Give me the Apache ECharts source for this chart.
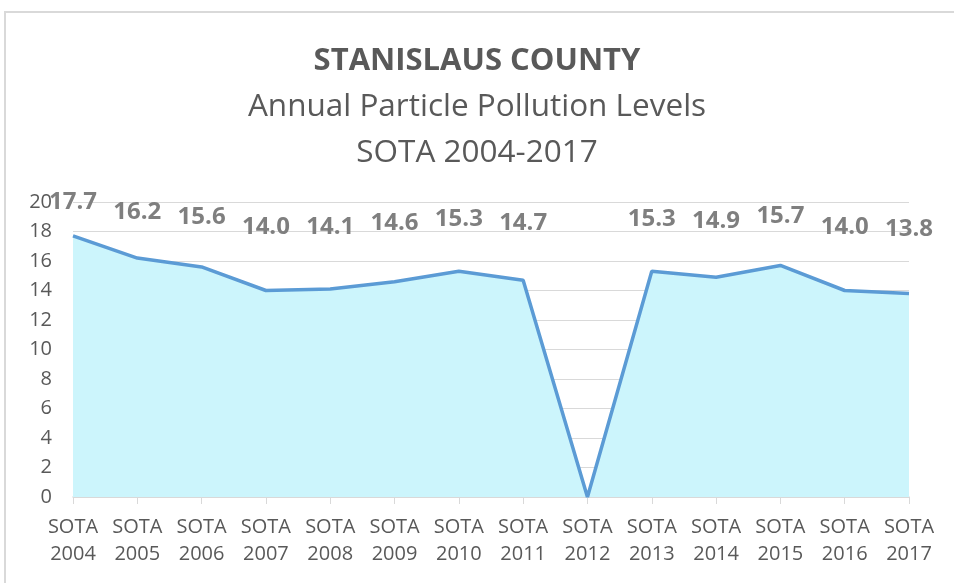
<!DOCTYPE html>
<html>
<head>
<meta charset="utf-8">
<script src="https://cdn.jsdelivr.net/npm/echarts@6/dist/echarts.min.js"></script>
<style>
  html, body { margin: 0; padding: 0; background: #fff; }
  #chart { width: 954px; height: 583px; }
</style>
</head>
<body>
<div id="chart"></div>
<script>
var years = ['2004', '2005', '2006', '2007', '2008', '2009', '2010', '2011', '2012', '2013', '2014', '2015', '2016', '2017'];
var levels = [17.7, 16.2, 15.6, 14.0, 14.1, 14.6, 15.3, 14.7, 0, 15.3, 14.9, 15.7, 14.0, 13.8];
var yTicks = { min: 0, max: 20, step: 2 };

var categories = years.map(function(y) { return 'SOTA\n' + y; });

// Excel places the labels in a compressed band above the points
var labelOffset = function(v) {
	return [0, -(175 - 8 * v)];
};

var seriesData = levels.map(function(v) {
	return {
		value : v,
		label : {
			show : v > 0,
			position : 'inside',
			offset : labelOffset(v)
		}
	};
});

var chart = echarts.init(document.getElementById('chart'));

var option = {
	backgroundColor : '#fff',
	animation : false,
	textStyle : { fontFamily : 'Open Sans' },
	title : {
		left : 'center',
		top : 33,
		text : '{a|STANISLAUS COUNTY}\n{b|Annual Particle Pollution Levels}\n{b|SOTA 2004-2017}',
		textStyle : {
			rich : {
				a : { fontFamily : 'Open Sans', fontSize : 31, fontWeight : 'bold', color : '#595959', lineHeight : 46 },
				b : { fontFamily : 'Open Sans', fontSize : 31.5, fontWeight : 'normal', color : '#595959', lineHeight : 46 }
			}
		}
	},
	graphic : [ {
		type : 'rect',
		shape : { x : 5, y : 12, width : 980, height : 600 },
		style : { fill : 'none', stroke : '#d9d9d9', lineWidth : 2 },
		silent : true
	} ],
	grid : {
		left : 73,
		right : 45,
		top : 202,
		bottom : 86,
		containLabel : false
	},
	xAxis : {
		type : 'category',
		boundaryGap : false,
		data : categories,
		axisLine : { lineStyle : { color : '#d9d9d9', width : 1.5 } },
		axisTick : { show : true, length : 7, lineStyle : { color : '#d9d9d9' } },
		axisLabel : {
			color : '#595959',
			fontSize : 20,
			lineHeight : 27,
			margin : 17,
			interval : 0
		}
	},
	yAxis : {
		type : 'value',
		min : yTicks.min,
		max : yTicks.max,
		interval : yTicks.step,
		axisLine : { show : false },
		axisTick : { show : false },
		splitLine : { lineStyle : { color : '#d9d9d9', width : 1 } },
		axisLabel : {
			color : '#595959',
			fontSize : 20,
			margin : 21
		}
	},
	series : [ {
		name : 'Annual Particle Pollution',
		type : 'line',
		data : seriesData,
		symbol : 'circle',
		symbolSize : 1,
		showSymbol : true,
		itemStyle : { color : 'rgba(0,0,0,0)' },
		lineStyle : { color : '#5b9bd5', width : 3.5 },
		areaStyle : { color : '#ccf5fc', opacity : 1 },
		label : {
			color : '#7f7f7f',
			fontSize : 24,
			fontWeight : 'bold',
			formatter : function(p) { return p.value.toFixed(1); }
		}
	} ]
};

chart.setOption(option);
</script>
</body>
</html>
